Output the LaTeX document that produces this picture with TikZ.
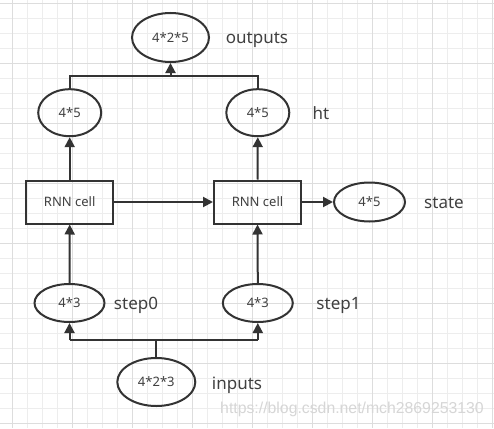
\documentclass[tikz,border=0pt]{standalone}
\usepackage{fontspec}
\setmainfont{Noto Sans}
\newfontfamily\wmfont{Liberation Sans}
\usetikzlibrary{shapes.geometric,arrows.meta}
\definecolor{ink}{HTML}{333333}
\definecolor{txt}{HTML}{404040}
\definecolor{gridminor}{HTML}{EDEDED}
\definecolor{gridmajor}{HTML}{DDDDDD}
\tikzset{
  minorgrid/.style={gridminor, line width=1pt},
  majorgrid/.style={gridmajor, line width=1pt},
  ell/.style={ellipse, draw=ink, line width=2pt, inner sep=0pt, text=txt, font=\fontsize{13}{15}\selectfont},
  cell/.style={rectangle, draw=ink, line width=2pt, inner sep=0pt, minimum width=87pt, minimum height=43pt, text=txt, font=\fontsize{13}{15}\selectfont},
  lab/.style={text=txt, font=\fontsize{17}{19}\selectfont, inner sep=0pt},
  wire/.style={draw=ink, line width=2pt},
  arr/.style={draw=ink, line width=2pt, -{Triangle[length=10pt,width=10pt]}},
}
\begin{document}
\begin{tikzpicture}[x=1pt,y=-1pt]
\useasboundingbox (0,0) rectangle (494,428);
\fill[white] (0,0) rectangle (494,428);
% grid
\foreach \i in {0,...,32} \draw[minorgrid] ({12.3+15*\i},0) -- ({12.3+15*\i},428);
\foreach \j in {0,...,28} \draw[minorgrid] (0,{3.3+15*\j}) -- (494,{3.3+15*\j});
\foreach \i in {0,...,8} \draw[majorgrid] ({12.3+60*\i},0) -- ({12.3+60*\i},428);
\foreach \j in {0,...,7} \draw[majorgrid] (0,{3.3+60*\j}) -- (494,{3.3+60*\j});

% nodes
\node[ell, minimum width=77pt, minimum height=49pt] (out) at (170.5,37.5) {4*2*5};
\node[ell, minimum width=63pt, minimum height=47pt] (h0) at (69.7,112.7) {4*5};
\node[ell, minimum width=63pt, minimum height=47pt] (h1) at (257.8,112.7) {4*5};
\node[cell] (c0) at (69.7,202) {RNN cell};
\node[cell] (c1) at (257.5,202) {RNN cell};
\node[ell, minimum width=71pt, minimum height=39pt] (st) at (369.5,202) {4*5};
\node[ell, minimum width=70pt, minimum height=38pt] (s0) at (69.5,303) {4*3};
\node[ell, minimum width=70pt, minimum height=38pt] (s1) at (257.8,303) {4*3};
\node[ell, minimum width=78pt, minimum height=48pt] (in) at (156.3,382) {4*2*3};

% labels
\node[lab, anchor=base] (lout) at (257,44) {outputs};
\node[lab, anchor=base] (lht) at (321,119) {ht};
\node[lab, anchor=base] (lst) at (444,208.5) {state};
\node[lab, anchor=base] (ls0) at (136,309) {step0};
\node[lab, anchor=base] (ls1) at (338.5,309) {step1};
\node[lab, anchor=base] (lin) at (237,389) {inputs};

% connectors
\coordinate (tl) at (69.7,76);
\coordinate (tr) at (257.8,76);
\draw[wire] (h0.north) -- (tl) -- (tr) -- (h1.north);
\draw[arr] (out.south |- tl) -- (out.south);
\draw[arr] (c0.north) -- (h0.south);
\draw[arr] (c1.north) -- (h1.south);
\draw[arr] (c0.east) -- (c1.west);
\draw[arr] (c1.east) -- (st.west);
\draw[arr] (s0.north) -- (c0.south);
\draw[arr] (s1.north) -- (c1.south);
\coordinate (bl) at (69.5,340);
\coordinate (br) at (257.8,340);
\draw[wire] (bl) -- (br);
\draw[wire] (in.north) -- (in.north |- bl);
\draw[arr] (bl) -- (s0.south);
\draw[arr] (br) -- (s1.south);

% watermark
\node[text=black!16, font=\wmfont\fontsize{15.8}{17}\selectfont, inner sep=0pt] (wm) at (352,409) {https://blog.csdn.net/mch2869253130};
\end{tikzpicture}
\end{document}
